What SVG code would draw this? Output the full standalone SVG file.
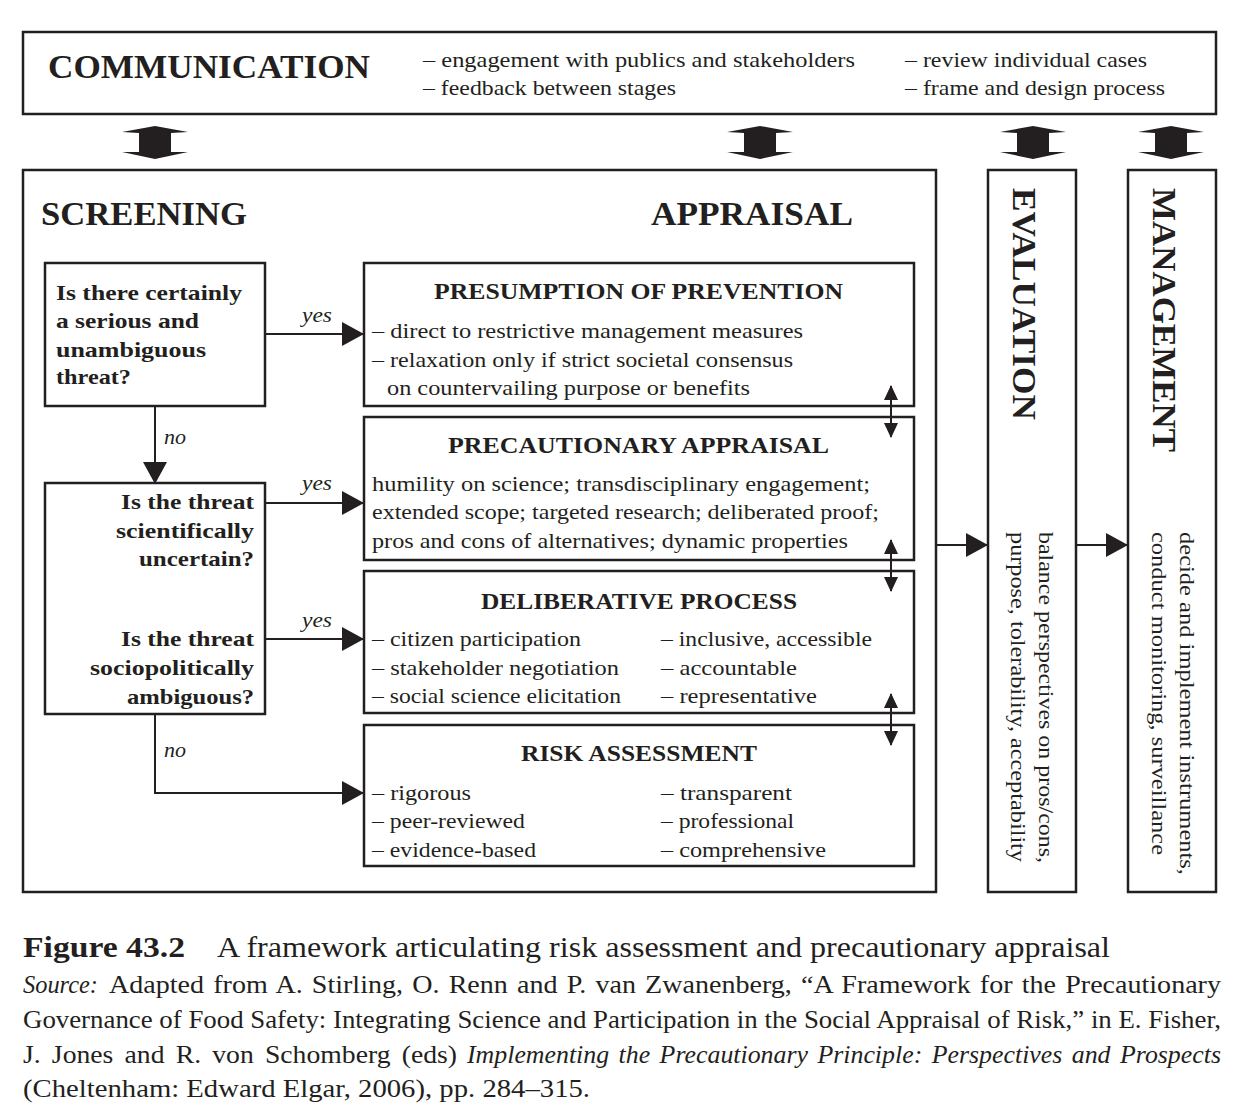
<svg xmlns="http://www.w3.org/2000/svg" width="1252" height="1120" viewBox="0 0 1252 1120">
<style>
text{font-family:"Liberation Serif","Times New Roman",serif;fill:#231f20}
.bx{fill:none;stroke:#231f20;stroke-width:2.5}
.ln{fill:none;stroke:#231f20;stroke-width:2}
.big{font-size:34px;font-weight:bold}
.q{font-size:22px;font-weight:bold}
.t{font-size:24px;font-weight:bold}
.d{font-size:22px}
.i{font-size:21px;font-style:italic}
.cap{font-size:26px}
.it{font-style:italic}
.blk{fill:#231f20}
</style>
<defs>
<marker id="ah" viewBox="0 0 22 24" refX="21" refY="12" markerWidth="22" markerHeight="24" markerUnits="userSpaceOnUse" orient="auto"><path d="M0,0 L22,12 L0,24 z" fill="#231f20"/></marker>
<marker id="sh" viewBox="0 0 15 14" refX="14" refY="7" markerWidth="15" markerHeight="14" markerUnits="userSpaceOnUse" orient="auto-start-reverse"><path d="M0,0 L15,7 L0,14 z" fill="#231f20"/></marker>
<polygon id="blockArrow" points="0,-17 33,-11 16,-10 16,9 33,9 0,16 -33,9 -16,9 -16,-10 -33,-11" class="blk"/>
</defs>

<g id="communication">
<rect class="bx" x="23" y="32" width="1193" height="82"/>
<text class="big" x="48" y="78" textLength="322" lengthAdjust="spacingAndGlyphs">COMMUNICATION</text>
<text class="d" x="423" y="67" textLength="432" lengthAdjust="spacingAndGlyphs">– engagement with publics and stakeholders</text>
<text class="d" x="423" y="95" textLength="253" lengthAdjust="spacingAndGlyphs">– feedback between stages</text>
<text class="d" x="905" y="67" textLength="242" lengthAdjust="spacingAndGlyphs">– review individual cases</text>
<text class="d" x="905" y="95" textLength="260" lengthAdjust="spacingAndGlyphs">– frame and design process</text>
</g>

<g id="block-arrows">
<use href="#blockArrow" x="155" y="143"/>
<use href="#blockArrow" x="760" y="143"/>
<use href="#blockArrow" x="1033" y="143"/>
<use href="#blockArrow" x="1171" y="143"/>
</g>

<g id="screening-appraisal">
<rect class="bx" x="23" y="170" width="913" height="722"/>
<text class="big" x="41" y="225" textLength="206" lengthAdjust="spacingAndGlyphs">SCREENING</text>
<text class="big" x="651" y="225" textLength="202" lengthAdjust="spacingAndGlyphs">APPRAISAL</text>
</g>

<g id="question1">
<rect class="bx" x="45" y="263" width="220" height="143"/>
<text class="q" x="56" y="300" textLength="186" lengthAdjust="spacingAndGlyphs">Is there certainly</text>
<text class="q" x="56" y="328" textLength="143" lengthAdjust="spacingAndGlyphs">a serious and</text>
<text class="q" x="56" y="357" textLength="150" lengthAdjust="spacingAndGlyphs">unambiguous</text>
<text class="q" x="56" y="384" textLength="75" lengthAdjust="spacingAndGlyphs">threat?</text>
</g>

<g id="question2">
<rect class="bx" x="45" y="483" width="220" height="231"/>
<text class="q" x="121" y="509" textLength="133" lengthAdjust="spacingAndGlyphs">Is the threat</text>
<text class="q" x="116" y="538" textLength="138" lengthAdjust="spacingAndGlyphs">scientifically</text>
<text class="q" x="139" y="566" textLength="115" lengthAdjust="spacingAndGlyphs">uncertain?</text>
<text class="q" x="121" y="646" textLength="133" lengthAdjust="spacingAndGlyphs">Is the threat</text>
<text class="q" x="90" y="675" textLength="164" lengthAdjust="spacingAndGlyphs">sociopolitically</text>
<text class="q" x="127" y="704" textLength="127" lengthAdjust="spacingAndGlyphs">ambiguous?</text>
</g>

<g id="prevention">
<rect class="bx" x="364" y="263" width="550" height="143"/>
<text class="t" x="434" y="299" textLength="409" lengthAdjust="spacingAndGlyphs">PRESUMPTION OF PREVENTION</text>
<text class="d" x="372" y="338" textLength="431" lengthAdjust="spacingAndGlyphs">– direct to restrictive management measures</text>
<text class="d" x="372" y="367" textLength="421" lengthAdjust="spacingAndGlyphs">– relaxation only if strict societal consensus</text>
<text class="d" x="387" y="395" textLength="363" lengthAdjust="spacingAndGlyphs">on countervailing purpose or benefits</text>
</g>

<g id="precautionary">
<rect class="bx" x="364" y="417" width="550" height="143"/>
<text class="t" x="448" y="453" textLength="381" lengthAdjust="spacingAndGlyphs">PRECAUTIONARY APPRAISAL</text>
<text class="d" x="372" y="491" textLength="498" lengthAdjust="spacingAndGlyphs">humility on science; transdisciplinary engagement;</text>
<text class="d" x="372" y="519" textLength="507" lengthAdjust="spacingAndGlyphs">extended scope; targeted research; deliberated proof;</text>
<text class="d" x="372" y="548" textLength="476" lengthAdjust="spacingAndGlyphs">pros and cons of alternatives; dynamic properties</text>
</g>

<g id="deliberative">
<rect class="bx" x="364" y="571" width="550" height="142"/>
<text class="t" x="481" y="609" textLength="316" lengthAdjust="spacingAndGlyphs">DELIBERATIVE PROCESS</text>
<text class="d" x="372" y="646" textLength="209" lengthAdjust="spacingAndGlyphs">– citizen participation</text>
<text class="d" x="372" y="675" textLength="247" lengthAdjust="spacingAndGlyphs">– stakeholder negotiation</text>
<text class="d" x="372" y="703" textLength="249" lengthAdjust="spacingAndGlyphs">– social science elicitation</text>
<text class="d" x="661" y="646" textLength="211" lengthAdjust="spacingAndGlyphs">– inclusive, accessible</text>
<text class="d" x="661" y="675" textLength="136" lengthAdjust="spacingAndGlyphs">– accountable</text>
<text class="d" x="661" y="703" textLength="156" lengthAdjust="spacingAndGlyphs">– representative</text>
</g>

<g id="risk-assessment">
<rect class="bx" x="364" y="725" width="550" height="141"/>
<text class="t" x="521" y="761" textLength="236" lengthAdjust="spacingAndGlyphs">RISK ASSESSMENT</text>
<text class="d" x="372" y="800" textLength="99" lengthAdjust="spacingAndGlyphs">– rigorous</text>
<text class="d" x="372" y="828" textLength="153" lengthAdjust="spacingAndGlyphs">– peer-reviewed</text>
<text class="d" x="372" y="857" textLength="164" lengthAdjust="spacingAndGlyphs">– evidence-based</text>
<text class="d" x="661" y="800" textLength="131" lengthAdjust="spacingAndGlyphs">– transparent</text>
<text class="d" x="661" y="828" textLength="133" lengthAdjust="spacingAndGlyphs">– professional</text>
<text class="d" x="661" y="857" textLength="165" lengthAdjust="spacingAndGlyphs">– comprehensive</text>
</g>

<g id="evaluation">
<rect class="bx" x="988" y="170" width="88" height="722"/>
<text class="big" transform="translate(1013,188) rotate(90)" font-size="36" textLength="232" lengthAdjust="spacingAndGlyphs">EVALUATION</text>
<text class="d" transform="translate(1039,532) rotate(90)" textLength="331" lengthAdjust="spacingAndGlyphs">balance perspectives on pros/cons,</text>
<text class="d" transform="translate(1011,532) rotate(90)" textLength="330" lengthAdjust="spacingAndGlyphs">purpose, tolerability, acceptability</text>
</g>

<g id="management">
<rect class="bx" x="1128" y="170" width="88" height="722"/>
<text class="big" transform="translate(1153,188) rotate(90)" textLength="264" lengthAdjust="spacingAndGlyphs">MANAGEMENT</text>
<text class="d" transform="translate(1180,532) rotate(90)" textLength="343" lengthAdjust="spacingAndGlyphs">decide and implement instruments,</text>
<text class="d" transform="translate(1152,532) rotate(90)" textLength="323" lengthAdjust="spacingAndGlyphs">conduct monitoring, surveillance</text>
</g>

<g id="connectors">
<path class="ln" d="M265,334 H363" marker-end="url(#ah)"/>
<path class="ln" d="M265,503 H363" marker-end="url(#ah)"/>
<path class="ln" d="M265,639 H363" marker-end="url(#ah)"/>
<path class="ln" d="M155,406 V483" marker-end="url(#ah)"/>
<path class="ln" d="M155,714 V793 H363" marker-end="url(#ah)"/>
<path class="ln" d="M936,545 H987" marker-end="url(#ah)"/>
<path class="ln" d="M1076,545 H1127" marker-end="url(#ah)"/>
<path class="ln" d="M891,386 V437" marker-start="url(#sh)" marker-end="url(#sh)"/>
<path class="ln" d="M891,540 V591" marker-start="url(#sh)" marker-end="url(#sh)"/>
<path class="ln" d="M891,694 V745" marker-start="url(#sh)" marker-end="url(#sh)"/>
<text class="i" x="302" y="322" textLength="30" lengthAdjust="spacingAndGlyphs">yes</text>
<text class="i" x="302" y="490" textLength="30" lengthAdjust="spacingAndGlyphs">yes</text>
<text class="i" x="302" y="627" textLength="30" lengthAdjust="spacingAndGlyphs">yes</text>
<text class="i" x="164" y="444" textLength="22" lengthAdjust="spacingAndGlyphs">no</text>
<text class="i" x="164" y="757" textLength="22" lengthAdjust="spacingAndGlyphs">no</text>
</g>

<g id="caption">
<text x="23" y="957" font-size="30" font-weight="bold" textLength="162" lengthAdjust="spacingAndGlyphs">Figure 43.2</text>
<text x="217" y="957" font-size="29" textLength="893" lengthAdjust="spacingAndGlyphs">A framework articulating risk assessment and precautionary appraisal</text>
<text class="cap it" x="23" y="993" textLength="75" lengthAdjust="spacingAndGlyphs">Source:</text>
<text class="cap" x="109" y="993" word-spacing="2" textLength="1112" lengthAdjust="spacingAndGlyphs">Adapted from A. Stirling, O. Renn and P. van Zwanenberg, “A Framework for the Precautionary</text>
<text class="cap" x="23" y="1028" textLength="1198" lengthAdjust="spacingAndGlyphs">Governance of Food Safety: Integrating Science and Participation in the Social Appraisal of Risk,” in E. Fisher,</text>
<text class="cap" x="23" y="1063" word-spacing="4" textLength="434" lengthAdjust="spacingAndGlyphs">J. Jones and R. von Schomberg (eds)</text>
<text class="cap it" x="467" y="1063" word-spacing="3" textLength="754" lengthAdjust="spacingAndGlyphs">Implementing the Precautionary Principle: Perspectives and Prospects</text>
<text class="cap" x="23" y="1097" textLength="567" lengthAdjust="spacingAndGlyphs">(Cheltenham: Edward Elgar, 2006), pp. 284–315.</text>
</g>
</svg>
